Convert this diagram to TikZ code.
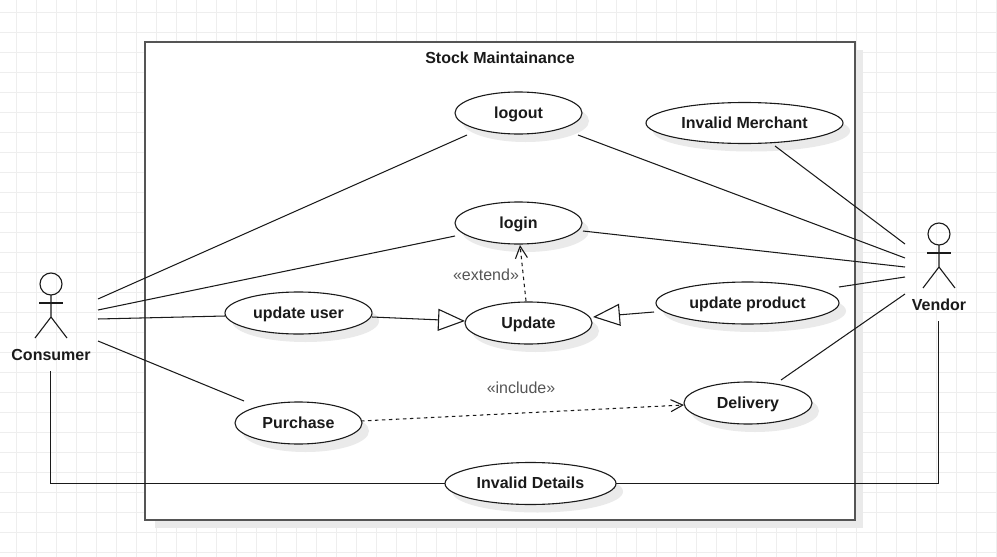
\documentclass[tikz,border=0pt]{standalone}
\usepackage{fontspec}
\setmainfont{Liberation Sans}
\usetikzlibrary{arrows.meta,shadows,calc,shapes.geometric}
\definecolor{gridc}{HTML}{EEEEEE}
\definecolor{shadowc}{HTML}{EAEAEA}
\definecolor{inkc}{HTML}{1A1A1A}
\definecolor{boxc}{HTML}{555555}
\definecolor{labelc}{HTML}{555555}
\tikzset{
  usecase/.style={draw=inkc,line width=1.1pt,fill=white,ellipse,minimum width=2*#1,minimum height=42pt,inner sep=0pt,outer sep=0pt,
    text height=13pt,text depth=3pt,
    font=\fontsize{16}{18}\selectfont\bfseries,text=inkc,
    preaction={draw=none,fill=shadowc,transform canvas={shift={(7pt,-8pt)}}}},
  usecase/.default=63pt,
  conn/.style={draw=inkc,line width=1.05pt},
  stereo/.style={font=\fontsize{16}{18}\selectfont,text=labelc,inner sep=0pt},
  actorname/.style={font=\fontsize{16}{18}\selectfont\bfseries,text=inkc,inner sep=0pt},
  gen/.style={conn,-{Triangle[open,fill=white,length=27pt,width=22pt,line width=1.1pt]}},
  dep/.style={conn,dashed,dash pattern=on 3.5pt off 3.5pt,-{Straight Barb[length=12pt,width=12pt,line width=1.1pt]}},
  stick/.style={draw=inkc,line width=1.1pt},
}
\begin{document}
\begin{tikzpicture}[x=1pt,y=-1pt]
\useasboundingbox (0,0) rectangle (997,557);
\fill[white] (0,0) rectangle (997,557);
% grid
\foreach \gx in {16.5,36.5,...,996.5} \draw[gridc,line width=0.8pt] (\gx,0) -- (\gx,557);
\foreach \gy in {12.5,32.5,...,556.5} \draw[gridc,line width=0.8pt] (0,\gy) -- (997,\gy);
% system boundary
\fill[shadowc] (155,50) rectangle (863,528);
\node[draw=boxc,line width=1.6pt,fill=white,minimum width=710pt,minimum height=478pt,inner sep=0pt,outer sep=0pt,anchor=north west] (system) at (145,42) {};
\node[font=\fontsize{16}{18}\selectfont\bfseries,text=inkc,inner sep=0pt] (title) at (500,58) {Stock Maintainance};
% use cases
\node[usecase=63.5pt] (logout) at (518.5,113) {logout};
\node[usecase=63.5pt] (login) at (518.5,223) {login};
\node[usecase=73.5pt] (updateuser) at (298.5,313) {update user};
\node[usecase=63.5pt] (update) at (528.5,323) {Update};
\node[usecase=91.5pt] (updateproduct) at (747.5,303) {update product};
\node[usecase=98.5pt,minimum height=41pt] (merchant) at (744.5,123) {Invalid Merchant};
\node[usecase=64pt] (delivery) at (748,403) {Delivery};
\node[usecase=63.5pt] (purchase) at (298.5,423) {Purchase};
\node[usecase=85.5pt] (details) at (530.5,483.5) {Invalid Details};
% actors
\coordinate (cons) at (51,300);
\draw[stick] (cons)++(0,-16) circle (11pt);
\draw[stick] ($(cons)+(0,-5)$) -- ($(cons)+(0,17)$) -- ($(cons)+(-16,38)$);
\draw[stick] ($(cons)+(0,17)$) -- ($(cons)+(16,38)$);
\draw[stick] ($(cons)+(-12,3)$) -- ($(cons)+(12,3)$);
\node[actorname] (consumer) at (51,354.5) {Consumer};
\coordinate (vend) at (939,250);
\draw[stick] (vend)++(0,-16) circle (11pt);
\draw[stick] ($(vend)+(0,-5)$) -- ($(vend)+(0,17)$) -- ($(vend)+(-16,38)$);
\draw[stick] ($(vend)+(0,17)$) -- ($(vend)+(16,38)$);
\draw[stick] ($(vend)+(-12,3)$) -- ($(vend)+(12,3)$);
\node[actorname] (vendor) at (939,304.5) {Vendor};
% free ends near the actors
\coordinate (c1) at (98,299);
\coordinate (c2) at (98,310);
\coordinate (c3) at (98,319);
\coordinate (c4) at (98,341);
\coordinate (c5) at (50.5,371);
\coordinate (v1) at (905,244);
\coordinate (v2) at (905,258);
\coordinate (v3) at (905,267);
\coordinate (v4) at (905,277);
\coordinate (v5) at (905,294);
\coordinate (v6) at (938.5,321);
% connectors
\draw[conn] (c1) -- ([shift={(-51.5,22)}]logout.center);
\draw[conn] (c2) -- ([shift={(-63.5,13)}]login.center);
\draw[conn] (c3) -- ([shift={(-73.5,3)}]updateuser.center);
\draw[conn] (c4) -- ([shift={(-54.5,-22)}]purchase.center);
\draw[conn] (c5) |- (details.west);
\draw[conn] (v1) -- ([shift={(30.5,23)}]merchant.center);
\draw[conn] (v2) -- ([shift={(59.5,22)}]logout.center);
\draw[conn] (v3) -- ([shift={(64.5,8)}]login.center);
\draw[conn] (v4) -- ([shift={(91.5,-16)}]updateproduct.center);
\draw[conn] (v5) -- ([shift={(33,-23)}]delivery.center);
\draw[conn] (v6) |- (details.east);
\draw[gen] ([shift={(73.5,4)}]updateuser.center) -- ([shift={(-63.5,-2)}]update.center);
\draw[gen] ([shift={(-93.5,9)}]updateproduct.center) -- ([shift={(64.5,-6)}]update.center);
\draw[dep] ([shift={(-2.5,-22)}]update.center) -- ([shift={(1.5,22)}]login.center);
\draw[dep] ([shift={(62.5,-2)}]purchase.center) -- ([shift={(-64,2)}]delivery.center);
\node[stereo] (extendlabel) at (486,274.5) {«extend»};
\node[stereo] (includelabel) at (521,387.5) {«include»};
\end{tikzpicture}
\end{document}
